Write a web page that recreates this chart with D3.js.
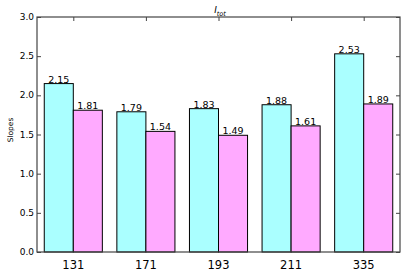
<!DOCTYPE html>
<html>
<head>
<meta charset="utf-8">
<script src="https://cdn.jsdelivr.net/npm/d3@7"></script>
<style>
  body { margin: 0; background: #fff; }
  text { font-family: "DejaVu Sans", sans-serif; }
</style>
</head>
<body>
<div id="chart"></div>
<script>
// group labels and the two bar series
const groups = ["131", "171", "193", "211", "335"];
const seriesA = [2.15, 1.79, 1.83, 1.88, 2.53];
const seriesB = [1.81, 1.54, 1.49, 1.61, 1.89];
const yTicks = [0.0, 0.5, 1.0, 1.5, 2.0, 2.5, 3.0];

const width = 407, height = 273;
const plotL = 37, plotR = 400, plotT = 17, plotB = 252;
const barW = 0.4;

const svg = d3.select("#chart").append("svg")
    .attr("width", width)
    .attr("height", height);

const x = d3.scaleLinear().domain([-0.1, 4.9]).range([plotL, plotR]);
const y = d3.scaleLinear().domain([0, 3]).range([plotB, plotT]);

const colors = ["#aaffff", "#ffaaff"];
const series = [seriesA, seriesB];

series.forEach(function(vals, s) {
    svg.append("g").selectAll("rect")
        .data(vals)
        .enter().append("rect")
          .attr("x", (d, i) => x(i + s * barW))
          .attr("y", d => y(d))
          .attr("width", x(barW) - x(0))
          .attr("height", d => y(0) - y(d))
          .attr("fill", colors[s])
          .attr("stroke", "#000")
          .attr("stroke-width", 1);

    svg.append("g").selectAll("text")
        .data(vals)
        .enter().append("text")
          .attr("x", (d, i) => x(i + s * barW + barW / 2))
          .attr("y", d => y(d) - 1)
          .attr("text-anchor", "middle")
          .attr("font-size", 9.5)
          .text(d => d.toFixed(2));
});

// frame
svg.append("rect")
    .attr("x", plotL).attr("y", plotT)
    .attr("width", plotR - plotL).attr("height", plotB - plotT)
    .attr("fill", "none")
    .attr("stroke", "#444")
    .attr("stroke-width", 1.2);

// y axis (inward ticks both sides)
const yAxis = svg.append("g")
    .attr("transform", `translate(${plotL},0)`)
    .call(d3.axisRight(y).tickValues(yTicks).tickSize(4).tickFormat(""));
yAxis.select(".domain").remove();
yAxis.selectAll("line").attr("stroke", "#444");

const yAxisR = svg.append("g")
    .attr("transform", `translate(${plotR},0)`)
    .call(d3.axisLeft(y).tickValues(yTicks).tickSize(4).tickFormat(""));
yAxisR.select(".domain").remove();
yAxisR.selectAll("line").attr("stroke", "#444");

svg.append("g").selectAll("text")
    .data(yTicks)
    .enter().append("text")
      .attr("x", plotL - 3)
      .attr("y", d => y(d))
      .attr("dy", "0.35em")
      .attr("text-anchor", "end")
      .attr("font-size", 9)
      .text(d => d.toFixed(1));

// x axis
const tickPos = groups.map((g, i) => i + barW);
const xAxisT = svg.append("g")
    .attr("transform", `translate(0,${plotT})`)
    .call(d3.axisBottom(x).tickValues(tickPos).tickSize(4).tickFormat(""));
xAxisT.select(".domain").remove();
xAxisT.selectAll("line").attr("stroke", "#444");

svg.append("g").selectAll("text")
    .data(groups)
    .enter().append("text")
      .attr("x", (d, i) => x(i + barW))
      .attr("y", plotB + 17)
      .attr("text-anchor", "middle")
      .attr("font-size", 11.5)
      .text(d => d);

svg.append("text")
    .attr("transform", `translate(13,130) rotate(-90)`)
    .attr("text-anchor", "middle")
    .attr("font-size", 7.5)
    .text("Slopes");

// title I_tot
const title = svg.append("text")
    .attr("x", 220)
    .attr("y", 13)
    .attr("text-anchor", "middle")
    .attr("font-size", 9)
    .attr("font-style", "italic")
    .attr("font-family", "DejaVu Serif, serif");
title.append("tspan").text("I");
title.append("tspan").attr("font-size", 6.5).attr("dy", 3).text("tot");
</script>
</body>
</html>
